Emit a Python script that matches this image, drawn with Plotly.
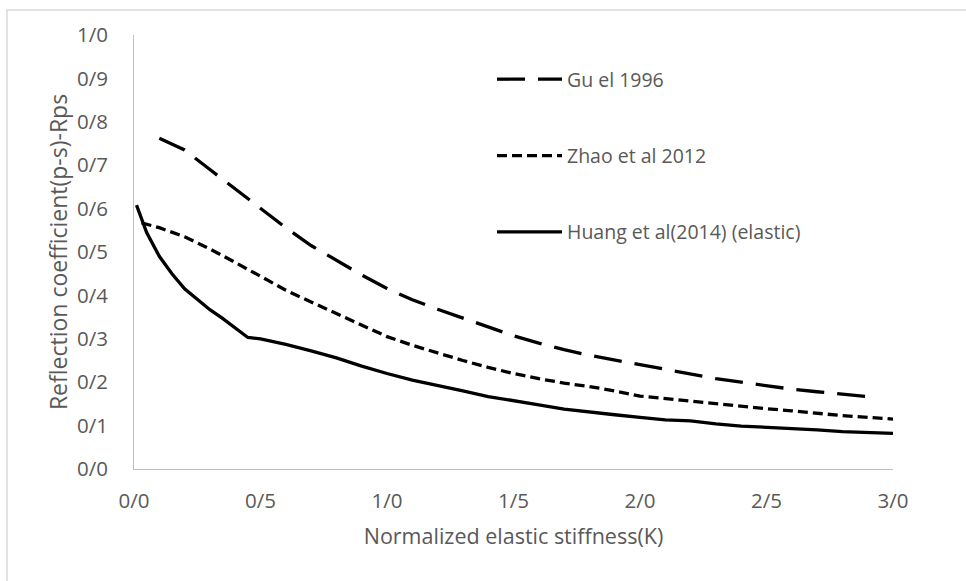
import plotly.graph_objects as go

# Data
gu_x = [0.1, 0.2, 0.3, 0.4, 0.5, 0.6, 0.7, 0.8, 0.9, 1.0, 1.1, 1.2, 1.3, 1.4, 1.5,
        1.6, 1.7, 1.8, 1.9, 2.0, 2.1, 2.2, 2.3, 2.4, 2.5, 2.6, 2.7, 2.8, 2.9]
gu_y = [0.762, 0.735, 0.690, 0.645, 0.600, 0.556, 0.515, 0.480, 0.447, 0.416, 0.390,
        0.368, 0.347, 0.326, 0.307, 0.290, 0.275, 0.262, 0.251, 0.240, 0.229, 0.218,
        0.208, 0.200, 0.192, 0.184, 0.178, 0.172, 0.167]

zhao_x = [0.03, 0.1, 0.2, 0.3, 0.4, 0.5, 0.6, 0.7, 0.8, 0.9, 1.0, 1.1, 1.2, 1.3, 1.4,
          1.5, 1.6, 1.7, 1.8, 1.9, 2.0, 2.1, 2.2, 2.3, 2.4, 2.5, 2.6, 2.7, 2.8, 2.9, 3.0]
zhao_y = [0.567, 0.556, 0.535, 0.507, 0.476, 0.445, 0.412, 0.385, 0.358, 0.330, 0.305,
          0.285, 0.267, 0.250, 0.234, 0.220, 0.208, 0.198, 0.190, 0.180, 0.168, 0.162,
          0.156, 0.150, 0.144, 0.139, 0.134, 0.128, 0.123, 0.119, 0.115]

huang_x = [0.01, 0.05, 0.1, 0.15, 0.2, 0.25, 0.3, 0.35, 0.4, 0.45, 0.5, 0.6, 0.7, 0.8,
           0.9, 1.0, 1.1, 1.2, 1.3, 1.4, 1.5, 1.6, 1.7, 1.8, 1.9, 2.0, 2.1, 2.2, 2.3,
           2.4, 2.5, 2.6, 2.7, 2.8, 2.9, 3.0]
huang_y = [0.608, 0.545, 0.490, 0.450, 0.415, 0.390, 0.367, 0.347, 0.325, 0.303, 0.300,
           0.287, 0.272, 0.256, 0.237, 0.220, 0.205, 0.193, 0.180, 0.167, 0.158, 0.148,
           0.138, 0.131, 0.125, 0.119, 0.113, 0.111, 0.104, 0.099, 0.096, 0.094, 0.090,
           0.086, 0.084, 0.082]

x_tickvals = [0, 0.5, 1.0, 1.5, 2.0, 2.5, 3.0]
x_ticktext = ["0/0", "0/5", "1/0", "1/5", "2/0", "2/5", "3/0"]
y_tickvals = [0, 0.1, 0.2, 0.3, 0.4, 0.5, 0.6, 0.7, 0.8, 0.9, 1.0]
y_ticktext = ["0/0", "0/1", "0/2", "0/3", "0/4", "0/5", "0/6", "0/7", "0/8", "0/9", "1/0"]

FONT = "Open Sans"
GRAY = "#595959"

fig = go.Figure()
fig.add_trace(go.Scatter(x=gu_x, y=gu_y, mode="lines", name="Gu el 1996",
                         legendgroup="a",
                         line=dict(color="black", width=3.3, dash="28px,13px")))
fig.add_trace(go.Scatter(x=zhao_x, y=zhao_y, mode="lines", name="Zhao et al 2012",
                         legendgroup="b",
                         line=dict(color="black", width=3.3, dash="10px,5px")))
fig.add_trace(go.Scatter(x=huang_x, y=huang_y, mode="lines",
                         name="Huang et al(2014) (elastic)", legendgroup="c",
                         line=dict(color="black", width=3.3)))

L, R, T, B = 134, 73, 35, 112
W, H = 966, 581
pw, ph = W - L - R, H - T - B

fig.update_layout(
    width=W, height=H,
    margin=dict(l=L, r=R, t=T, b=B),
    paper_bgcolor="white", plot_bgcolor="white",
    font=dict(family=FONT, color=GRAY, size=19),
    showlegend=True,
    legend=dict(
        x=(492 - L) / pw, y=(469 - 60) / ph, xanchor="left", yanchor="top",
        traceorder="grouped", tracegroupgap=48, itemwidth=65,
        font=dict(size=19.5, color=GRAY, family=FONT),
        bgcolor="rgba(0,0,0,0)",
    ),
    xaxis=dict(
        range=[0, 3.0], tickvals=x_tickvals, ticktext=x_ticktext,
        showgrid=False, zeroline=False, showline=True, linecolor="#bfbfbf",
        linewidth=1, ticks="", ticklabelstandoff=13,
        tickfont=dict(size=20.5, color=GRAY),
        title=dict(text="Normalized elastic stiffness(K)", standoff=16,
                   font=dict(size=21.5, color=GRAY)),
    ),
    yaxis=dict(
        range=[0, 1.0], tickvals=y_tickvals, ticktext=y_ticktext,
        showgrid=False, zeroline=False, showline=True, linecolor="#bfbfbf",
        linewidth=1, ticks="", ticklabelstandoff=21,
        tickfont=dict(size=20.5, color=GRAY),
        title=dict(text="Reflection coefficient(p-s)-Rps", standoff=2,
                   font=dict(size=23, color=GRAY)),
    ),
)

# outer chart-area border (extends past right and bottom edges)
fig.add_shape(type="rect", xref="paper", yref="paper",
              x0=(7 - L) / pw, x1=(W + 20 - L) / pw,
              y0=-(H + 20 - (H - B)) / ph, y1=(H - B - 10) / ph,
              line=dict(color="#d9d9d9", width=1.5), fillcolor="rgba(0,0,0,0)",
              layer="below")

fig.write_html("out.html")
